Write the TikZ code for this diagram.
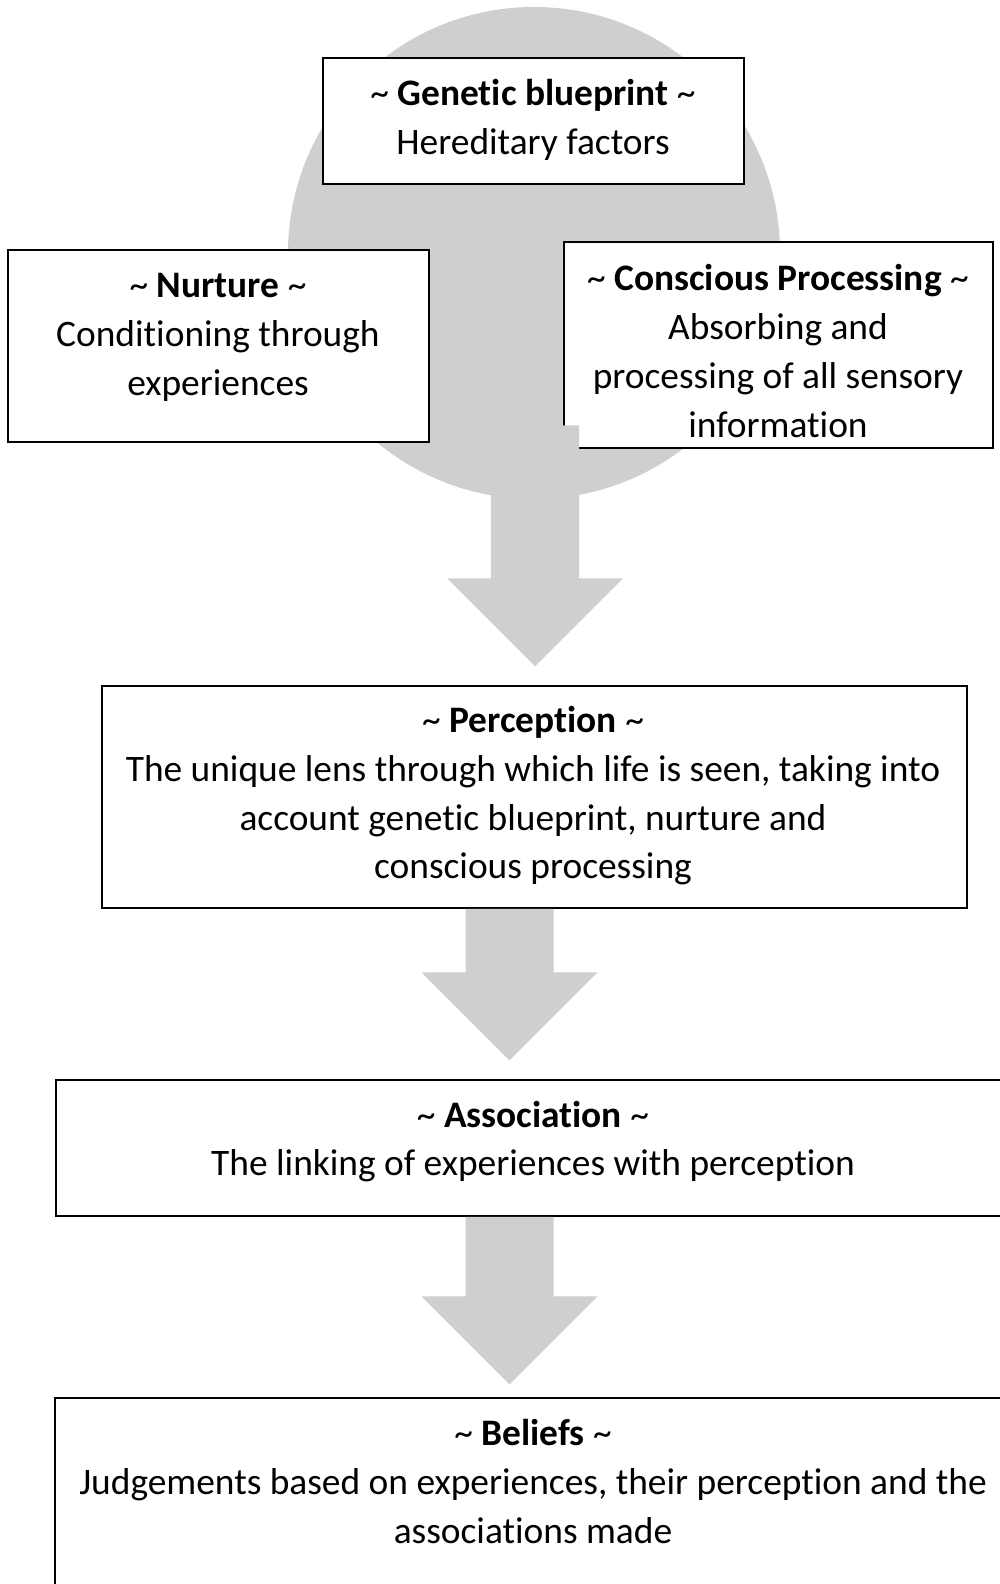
\documentclass[tikz,border=0pt]{standalone}
\usepackage{fontspec}
\setmainfont{Carlito}[Ligatures=NoCommon]
\usepackage{tikz}
\usetikzlibrary{positioning,calc}
\definecolor{flowgrey}{HTML}{D0CECE}
\newcommand{\tld}{\textasciitilde}
\tikzset{
    box/.style={
        rectangle,
        draw=black,
        fill=white,
        line width=0.75pt,
        inner sep=0pt,
    },
    boxtext/.style={
        align=center,
        inner sep=0pt,
        font=\fontsize{18.7}{24.35}\selectfont,
    },
    flow/.style={
        fill=flowgrey,
        draw=none,
        to path={let \p1=(\tikztostart), \p2=(\tikztotarget) in
            (\x1-22pt,\y1) -- (\x1-22pt,\y2+44pt) -- (\x2-44pt,\y2+44pt) -- (\x2,\y2)
            -- (\x2+44pt,\y2+44pt) -- (\x1+22pt,\y2+44pt) -- (\x1+22pt,\y1) -- cycle},
    },
}
\begin{document}
\begin{tikzpicture}[x=0.5pt, y=-0.5pt]
    \useasboundingbox (0,0) rectangle (1000,1584);
    \clip (0,0) rectangle (1000,1584);

    % Source circle behind the three inputs
    \node[circle, fill=flowgrey, inner sep=0pt, minimum size=246pt] (source) at (534,253) {};

    % Inputs
    \node[box, minimum width=210.5pt, minimum height=63pt] (genetic) at (533.5,121) {};
    \node[boxtext] (geneticlbl) at (533,120) {\tld{} \textbf{Genetic blueprint} \tld\\Hereditary factors};

    \node[box, minimum width=210.5pt, minimum height=96pt] (nurture) at (218.5,346) {};
    \node[boxtext] (nurturelbl) at (218,337.5) {\tld{} \textbf{Nurture} \tld\\Conditioning through\\experiences};

    \node[box, minimum width=214.5pt, minimum height=103pt] (conscious) at (778.5,345) {};
    \node[boxtext] (consciouslbl) at (778,351) {\tld{} \textbf{Conscious Processing} \tld\\Absorbing and\\processing of all sensory\\information};

    % Chain
    \node[box, minimum width=432.5pt, minimum height=111pt] (perception) at (534.5,797) {};
    \node[boxtext] (perceptionlbl) at (533,796) {\tld{} \textbf{Perception} \tld\\The unique lens through which life is seen, taking into\\account genetic blueprint, nurture and\\conscious processing};

    \node[box, minimum width=478.5pt, minimum height=68pt] (association) at (534.5,1148) {};
    \node[boxtext] (associationlbl) at (533,1141.5) {\tld{} \textbf{Association} \tld\\The linking of experiences with perception};

    \node[box, minimum width=479.5pt, minimum height=101pt] (beliefs) at (534.5,1499) {};
    \node[boxtext] (beliefslbl) at (533,1481.5) {\tld{} \textbf{Beliefs} \tld\\Judgements based on experiences, their perception and the\\associations made};

    % Block arrows
    \coordinate (a1start) at ([xshift=0.5pt, yshift=37pt]source.south);
    \coordinate (a1tip) at ([xshift=0.25pt, yshift=9.5pt]perception.north);
    \coordinate (a2start) at ([xshift=-12.5pt]perception.south);
    \coordinate (a2tip) at ([xshift=-12.5pt, yshift=9.5pt]association.north);
    \coordinate (a3start) at ([xshift=-12.5pt]association.south);
    \coordinate (a3tip) at ([xshift=-12.5pt, yshift=6.5pt]beliefs.north);

    \fill[flow] (a1start) to (a1tip);
    \fill[flow] (a2start) to (a2tip);
    \fill[flow] (a3start) to (a3tip);
\end{tikzpicture}
\end{document}
